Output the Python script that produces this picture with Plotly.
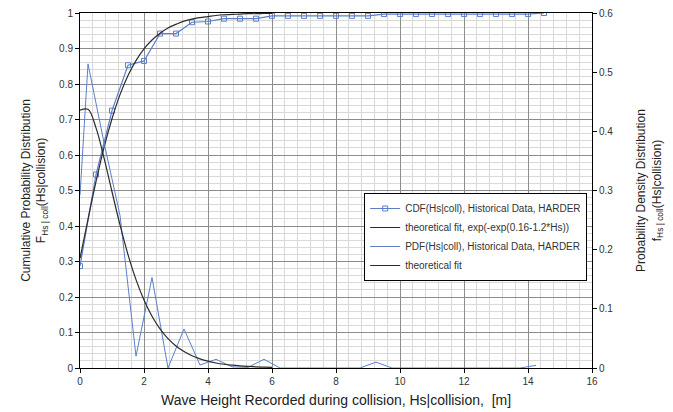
import plotly.graph_objects as go

# CDF(Hs|coll), historical data (left axis)
cdf_x = [0, 0.5, 1, 1.5, 2, 2.5, 3, 3.5, 4, 4.5, 5, 5.5, 6, 6.5, 7, 7.5, 8, 8.5, 9,
         9.5, 10, 10.5, 11, 11.5, 12, 12.5, 13, 13.5, 14, 14.5]
cdf_y = [0.287, 0.545, 0.725, 0.853, 0.865, 0.942, 0.942, 0.974, 0.976, 0.984, 0.984, 0.984,
         0.992, 0.992, 0.992, 0.992, 0.992, 0.992, 0.992, 0.997, 0.997, 0.997, 0.997, 0.997,
         0.997, 0.997, 0.997, 0.997, 0.997, 1.0]

# PDF(Hs|coll), historical data (right axis)
pdf_x = [0, 0.25, 0.75, 1.25, 1.75, 2.25, 2.75, 3.25, 3.75, 4.25, 4.75, 5.25, 5.75, 6.25,
         6.75, 7.25, 7.75, 8.25, 8.75, 9.25, 9.75, 10.25, 10.75, 11.25, 11.75, 12.25, 12.75,
         13.25, 13.75, 14.25]
pdf_y = [0.292, 0.514, 0.381, 0.258, 0.020, 0.153, 0.0, 0.066, 0.005, 0.0147, 0.002, 0.001,
         0.0147, 0.0, 0.0, 0.0, 0.0, 0.0, 0.0, 0.010, 0.0, 0.0, 0.0, 0.0, 0.0, 0.0, 0.0,
         0.0, 0.0, 0.0045]

# theoretical fit curves
fit_x = [0, 0.25, 0.5, 0.75, 1, 1.25, 1.5, 1.75, 2, 2.25, 2.5, 2.75, 3, 3.25, 3.5, 3.75,
         4, 4.25, 4.5, 4.75, 5, 5.25, 5.5, 5.75, 6]
fit_cdf = [0.309, 0.419, 0.525, 0.621, 0.702, 0.770, 0.824, 0.866, 0.899, 0.924, 0.943,
           0.958, 0.968, 0.977, 0.983, 0.987, 0.990, 0.993, 0.995, 0.996, 0.997, 0.998,
           0.998, 0.999, 0.999]
fit_pdf = [0.4356, 0.4373, 0.4059, 0.3553, 0.2979, 0.2418, 0.1917, 0.1494, 0.1149, 0.0875,
           0.0661, 0.0497, 0.0373, 0.0278, 0.0208, 0.0155, 0.0115, 0.0085, 0.0063, 0.0047,
           0.0035, 0.0026, 0.0019, 0.0014, 0.0011]

blue = "#5b7fc9"
dark = "#2b2b2b"
font = "Liberation Sans, Arial, sans-serif"

fig = go.Figure()

fig.add_trace(go.Scatter(x=cdf_x, y=cdf_y, mode="lines+markers",
                         name="CDF(Hs|coll), Historical Data, HARDER",
                         line=dict(color=blue, width=1.2),
                         marker=dict(symbol="square-open", size=5, color=blue,
                                     line=dict(width=1))))
fig.add_trace(go.Scatter(x=fit_x, y=fit_cdf, mode="lines",
                         name="theoretical fit, exp(-exp(0.16-1.2*Hs))",
                         line=dict(color=dark, width=1.2, shape="spline")))
fig.add_trace(go.Scatter(x=pdf_x, y=pdf_y, mode="lines", yaxis="y2",
                         name="PDF(Hs|coll), Historical Data, HARDER",
                         line=dict(color=blue, width=1)))
fig.add_trace(go.Scatter(x=fit_x, y=fit_pdf, mode="lines", yaxis="y2",
                         name="theoretical fit",
                         line=dict(color=dark, width=1.2, shape="spline")))

fig.update_layout(
    width=665, height=404,
    margin=dict(l=72, r=81, t=5, b=44, autoexpand=False),
    paper_bgcolor="white", plot_bgcolor="white",
    font=dict(family=font, size=10, color="#333"),
    showlegend=True,
    legend=dict(x=0.555, y=0.493, xanchor="left", yanchor="top",
                bgcolor="white", bordercolor="black", borderwidth=1,
                font=dict(size=10, color="#333"), tracegroupgap=0,
                itemwidth=30),
    xaxis=dict(range=[0, 16], dtick=2, tick0=0, showgrid=True, gridcolor="#8c8c8c",
               gridwidth=1, showline=True, linecolor="black", linewidth=1, mirror=True,
               ticks="outside", ticklen=4, tickcolor="black", zeroline=False,
               automargin=False, ticklabeloverflow="allow",
               minor=dict(dtick=0.4, tick0=0, showgrid=True, gridcolor="#d9d9d9")),
    yaxis=dict(range=[0, 1], dtick=0.1, tick0=0, showgrid=True, gridcolor="#8c8c8c",
               showline=True, linecolor="black", linewidth=1, ticks="outside",
               ticklen=4, tickcolor="black", zeroline=False, automargin=False,
               ticklabeloverflow="allow",
               minor=dict(dtick=0.02, tick0=0, showgrid=True, gridcolor="#d9d9d9"),
               title=dict(text="Cumulative Probability Distribution<br>"
                               "F<sub>Hs | coll</sub>(Hs|collision)",
                          font=dict(size=12, color="#222"), standoff=10)),
    yaxis2=dict(range=[0, 0.6], dtick=0.1, tick0=0, overlaying="y", side="right",
                showgrid=False, showline=True, linecolor="black", linewidth=1,
                ticks="outside", ticklen=4, tickcolor="black", zeroline=False,
                automargin=False, ticklabeloverflow="allow",
                title=dict(text="Probability Density Distribution<br>"
                                "f<sub>Hs | coll</sub>(Hs|collision)",
                           font=dict(size=12, color="#222"), standoff=24)),
    annotations=[dict(text="Wave Height Recorded during collision, Hs|collision,  [m]",
                      xref="paper", yref="paper", x=0.5, y=-0.09,
                      xanchor="center", yanchor="middle", showarrow=False,
                      font=dict(size=14, color="#222"))],
)

fig.write_html("out.html")
